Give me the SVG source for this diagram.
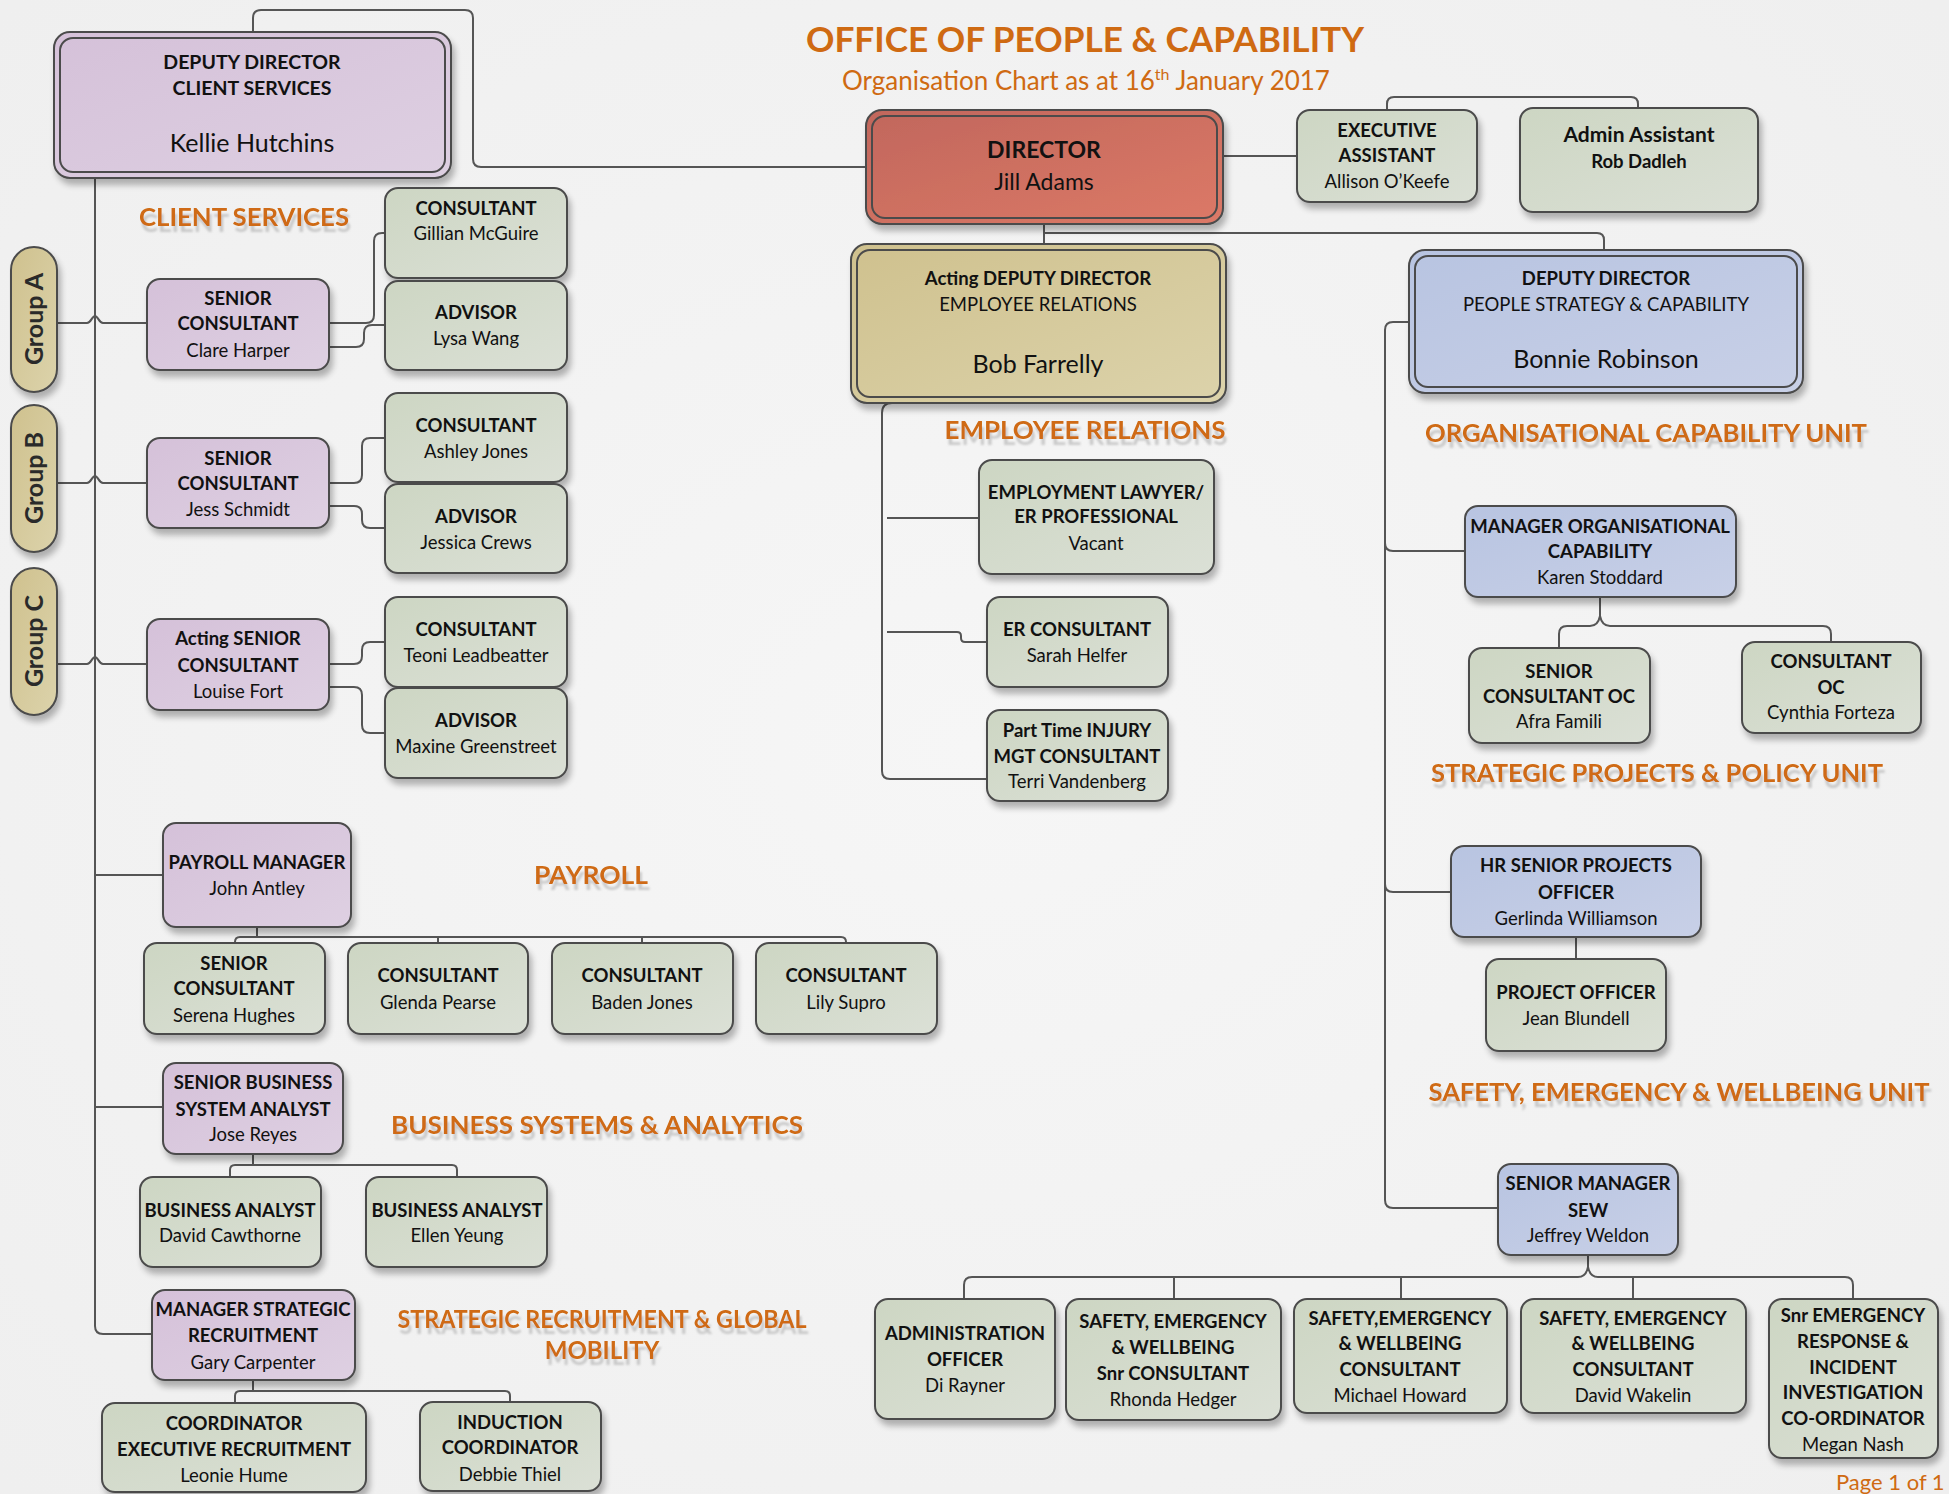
<svg xmlns="http://www.w3.org/2000/svg" width="1949" height="1494" viewBox="0 0 1949 1494">
<defs>
<radialGradient id="bg" cx="0.5" cy="0.5" r="0.7">
<stop offset="0" stop-color="#F6F6F6"/><stop offset="1" stop-color="#EFEFEF"/>
</radialGradient>
<linearGradient id="gG" x1="0" y1="0" x2="1" y2="1"><stop offset="0" stop-color="#CDD6C3"/><stop offset="1" stop-color="#DBE0D6"/></linearGradient>
<linearGradient id="gP" x1="0" y1="0" x2="1" y2="1"><stop offset="0" stop-color="#D5C1D9"/><stop offset="1" stop-color="#DED0E2"/></linearGradient>
<linearGradient id="gB" x1="0" y1="0" x2="1" y2="1"><stop offset="0" stop-color="#B8C4E1"/><stop offset="1" stop-color="#C8D0E7"/></linearGradient>
<linearGradient id="gT" x1="0" y1="0" x2="1" y2="1"><stop offset="0" stop-color="#CFC18E"/><stop offset="1" stop-color="#DCD3AB"/></linearGradient>
<linearGradient id="gR" x1="0" y1="0" x2="1" y2="1"><stop offset="0" stop-color="#C1675C"/><stop offset="1" stop-color="#DC7967"/></linearGradient>
<filter id="sh" x="-10%" y="-10%" width="130%" height="140%">
<feGaussianBlur in="SourceAlpha" stdDeviation="3" result="b"/>
<feOffset in="b" dx="3" dy="6" result="o"/>
<feComponentTransfer in="o" result="s"><feFuncA type="linear" slope="0.28"/></feComponentTransfer>
<feMerge><feMergeNode in="s"/><feMergeNode in="SourceGraphic"/></feMerge>
</filter>
<filter id="rf" x="-5%" y="-20%" width="110%" height="160%">
<feOffset in="SourceAlpha" dx="2" dy="6" result="o"/>
<feGaussianBlur in="o" stdDeviation="0.8" result="ob"/>
<feFlood flood-color="#8A8A8A" flood-opacity="0.4"/>
<feComposite in2="ob" operator="in" result="s"/>
<feMerge><feMergeNode in="s"/><feMergeNode in="SourceGraphic"/></feMerge>
</filter>
<style>
text{font-family:Lato,"Liberation Sans",sans-serif;fill:#111;text-anchor:middle}
.b{font-weight:bold;font-size:18.5px}
.r{font-size:18.5px}
.big{font-size:25px}
.lab{font-weight:bold;font-size:24px;fill:#CF6A12}
.grp{font-weight:bold;font-size:25px;fill:#2A2A2A}
.box{stroke:#4B4B4B;stroke-width:2;filter:url(#sh)}
.in{fill:none;stroke:#4B4B4B;stroke-width:2}
.G{fill:url(#gG)}.P{fill:url(#gP)}.B{fill:url(#gB)}.T{fill:url(#gT)}.R{fill:url(#gR)}
.con path{fill:none;stroke:#555;stroke-width:2}
</style>
</defs>
<rect width="1949" height="1494" fill="url(#bg)"/>

<g id="title">
<text x="1085" y="52" font-weight="bold" font-size="35" style="fill:#CF6A12" textLength="558" lengthAdjust="spacingAndGlyphs">OFFICE OF PEOPLE &amp; CAPABILITY</text>
<text x="1086" y="90" font-size="26" style="fill:#CF6A12">Organisation Chart as at 16<tspan dy="-10" font-size="16">th</tspan><tspan dy="10"> January 2017</tspan></text>
</g>

<g id="labels" filter="url(#rf)">
<text class="lab" x="244" y="226" textLength="210" lengthAdjust="spacingAndGlyphs">CLIENT SERVICES</text>
<text class="lab" x="1085" y="439" textLength="281" lengthAdjust="spacingAndGlyphs">EMPLOYEE RELATIONS</text>
<text class="lab" x="1646" y="442" textLength="442" lengthAdjust="spacingAndGlyphs">ORGANISATIONAL CAPABILITY UNIT</text>
<text class="lab" x="1657" y="782" textLength="452" lengthAdjust="spacingAndGlyphs">STRATEGIC PROJECTS &amp; POLICY UNIT</text>
<text class="lab" x="1679" y="1101" textLength="501" lengthAdjust="spacingAndGlyphs">SAFETY, EMERGENCY &amp; WELLBEING UNIT</text>
<text class="lab" x="591" y="884" textLength="114" lengthAdjust="spacingAndGlyphs">PAYROLL</text>
<text class="lab" x="597" y="1134" textLength="412" lengthAdjust="spacingAndGlyphs">BUSINESS SYSTEMS &amp; ANALYTICS</text>
<text class="lab" x="602" y="1328" textLength="409" lengthAdjust="spacingAndGlyphs">STRATEGIC RECRUITMENT &amp; GLOBAL</text>
<text class="lab" x="602" y="1359">MOBILITY</text>
</g>
<text x="1836" y="1490" font-size="22" style="fill:#CF6A12;text-anchor:start">Page 1 of 1</text>

<g class="con" id="connectors">
<path d="M253 32 V18 Q253 10 261 10 H465 Q473 10 473 18 V159 Q473 167 481 167 H866"/>
<path d="M1223 156 H1297"/>
<path d="M1387 110 V104 Q1387 97 1394 97 H1631 Q1638 97 1638 104 V108"/>
<path d="M1044 224 V244 M1044 233 H1597 Q1604 233 1604 240 V250"/>
<path d="M95 178 V1326 Q95 1334 103 1334 H152"/>
<path d="M57 323 H87 C91 323 92 316 95 316 C98 316 99 323 103 323 H147"/>
<path d="M57 483 H87 C91 483 92 476 95 476 C98 476 99 483 103 483 H147"/>
<path d="M57 664 H87 C91 664 92 657 95 657 C98 657 99 664 103 664 H147"/>
<path d="M329 323 H366 Q374 323 374 315 V241 Q374 233 382 233 H385"/>
<path d="M329 347 H356 Q364 347 364 339 V333 Q364 325 372 325 H385"/>
<path d="M329 483 H354 Q362 483 362 475 V446 Q362 438 370 438 H385"/>
<path d="M329 506 H354 Q362 506 362 514 V520 Q362 528 370 528 H385"/>
<path d="M329 664 H354 Q362 664 362 656 V650 Q362 642 370 642 H385"/>
<path d="M329 687 H354 Q362 687 362 695 V725 Q362 733 370 733 H385"/>
<path d="M95 875 H163"/>
<path d="M95 1107 H163"/>
<path d="M257 927 V937 M235 943 V942 Q235 937 240 937 H841 Q846 937 846 942 V943 M438 937 V943 M642 937 V943"/>
<path d="M253 1154 V1165 M230 1177 V1170 Q230 1165 235 1165 H452 Q457 1165 457 1170 V1177"/>
<path d="M253 1380 V1391 M235 1403 V1396 Q235 1391 240 1391 H505 Q510 1391 510 1396 V1402"/>
<path d="M948 403 H892 Q882 403 882 413 V771 Q882 779 890 779 H987"/>
<path d="M887 518 H979"/>
<path d="M887 632 H957 Q961 632 961 636 V638 Q961 642 965 642 H987"/>
<path d="M1409 322 H1393 Q1385 322 1385 330 V1200 Q1385 1208 1393 1208 H1498"/>
<path d="M1385 543 Q1385 551 1393 551 H1465"/>
<path d="M1385 884 Q1385 892 1393 892 H1451"/>
<path d="M1600 597 V616 Q1598 626 1590 626 H1567 Q1559 626 1559 634 V648 M1600 616 Q1602 626 1610 626 H1823 Q1831 626 1831 634 V642"/>
<path d="M1576 937 V959"/>
<path d="M1588 1255 V1267 Q1586 1277 1578 1277 H972 Q964 1277 964 1285 V1299 M1588 1267 Q1590 1277 1598 1277 H1845 Q1853 1277 1853 1285 V1299 M1174 1277 V1299 M1401 1277 V1299 M1633 1277 V1299"/>
</g>

<g id="dd-client-services">
<rect class="box P" x="54" y="32" width="397" height="146" rx="16"/>
<rect class="in" x="60" y="38" width="385" height="134" rx="13"/>
<text class="b" x="252" y="69" font-size="19.5" style="font-size:19.5px">DEPUTY DIRECTOR</text>
<text class="b" x="252" y="95" style="font-size:19.5px">CLIENT SERVICES</text>
<text class="big" x="252" y="152">Kellie Hutchins</text>
</g>
<g id="director">
<rect class="box R" x="866" y="110" width="357" height="114" rx="16"/>
<rect class="in" x="872" y="116" width="345" height="102" rx="13"/>
<text x="1044" y="158" font-weight="bold" font-size="23">DIRECTOR</text>
<text x="1044" y="190" font-size="23">Jill Adams</text>
</g>
<g id="exec-assistant">
<rect class="box G" x="1297" y="110" width="180" height="92" rx="13"/>
<text class="b" x="1387" y="137">EXECUTIVE</text>
<text class="b" x="1387" y="162">ASSISTANT</text>
<text class="r" x="1387" y="188">Allison O’Keefe</text>
</g>
<g id="admin-assistant">
<rect class="box G" x="1520" y="108" width="238" height="104" rx="13"/>
<text x="1639" y="142" font-weight="bold" font-size="21">Admin Assistant</text>
<text class="b" x="1639" y="168">Rob Dadleh</text>
</g>
<g id="dd-employee-relations">
<rect class="box T" x="851" y="244" width="375" height="159" rx="16"/>
<rect class="in" x="857" y="250" width="363" height="147" rx="13"/>
<text class="b" x="1038" y="285">Acting DEPUTY DIRECTOR</text>
<text class="r" x="1038" y="311">EMPLOYEE RELATIONS</text>
<text class="big" x="1038" y="373">Bob Farrelly</text>
</g>
<g id="dd-people-strategy">
<rect class="box B" x="1409" y="250" width="394" height="143" rx="16"/>
<rect class="in" x="1415" y="256" width="382" height="131" rx="13"/>
<text class="b" x="1606" y="285">DEPUTY DIRECTOR</text>
<text class="r" x="1606" y="311">PEOPLE STRATEGY &amp; CAPABILITY</text>
<text class="big" x="1606" y="368">Bonnie Robinson</text>
</g>

<g id="group-a">
<rect class="box T" x="11" y="247" width="46" height="145" rx="23"/>
<text class="grp" transform="translate(43,319) rotate(-90)">Group A</text>
</g>
<g id="group-b">
<rect class="box T" x="11" y="405" width="46" height="147" rx="23"/>
<text class="grp" transform="translate(43,478) rotate(-90)">Group B</text>
</g>
<g id="group-c">
<rect class="box T" x="11" y="568" width="46" height="147" rx="23"/>
<text class="grp" transform="translate(43,641) rotate(-90)">Group C</text>
</g>

<g id="sc-clare-harper">
<rect class="box P" x="147" y="279" width="182" height="91" rx="13"/>
<text class="b" x="238" y="305">SENIOR</text>
<text class="b" x="238" y="330">CONSULTANT</text>
<text class="r" x="238" y="357">Clare Harper</text>
</g>
<g id="consultant-gillian">
<rect class="box G" x="385" y="188" width="182" height="90" rx="13"/>
<text class="b" x="476" y="215">CONSULTANT</text>
<text class="r" x="476" y="240">Gillian McGuire</text>
</g>
<g id="advisor-lysa">
<rect class="box G" x="385" y="281" width="182" height="89" rx="13"/>
<text class="b" x="476" y="319">ADVISOR</text>
<text class="r" x="476" y="345">Lysa Wang</text>
</g>
<g id="sc-jess-schmidt">
<rect class="box P" x="147" y="438" width="182" height="90" rx="13"/>
<text class="b" x="238" y="465">SENIOR</text>
<text class="b" x="238" y="490">CONSULTANT</text>
<text class="r" x="238" y="516">Jess Schmidt</text>
</g>
<g id="consultant-ashley">
<rect class="box G" x="385" y="393" width="182" height="89" rx="13"/>
<text class="b" x="476" y="432">CONSULTANT</text>
<text class="r" x="476" y="458">Ashley Jones</text>
</g>
<g id="advisor-jessica">
<rect class="box G" x="385" y="484" width="182" height="89" rx="13"/>
<text class="b" x="476" y="523">ADVISOR</text>
<text class="r" x="476" y="549">Jessica Crews</text>
</g>
<g id="sc-louise-fort">
<rect class="box P" x="147" y="619" width="182" height="91" rx="13"/>
<text class="b" x="238" y="645">Acting SENIOR</text>
<text class="b" x="238" y="672">CONSULTANT</text>
<text class="r" x="238" y="698">Louise Fort</text>
</g>
<g id="consultant-teoni">
<rect class="box G" x="385" y="597" width="182" height="90" rx="13"/>
<text class="b" x="476" y="636">CONSULTANT</text>
<text class="r" x="476" y="662">Teoni Leadbeatter</text>
</g>
<g id="advisor-maxine">
<rect class="box G" x="385" y="688" width="182" height="90" rx="13"/>
<text class="b" x="476" y="727">ADVISOR</text>
<text class="r" x="476" y="753">Maxine Greenstreet</text>
</g>

<g id="payroll-manager">
<rect class="box P" x="163" y="823" width="188" height="104" rx="13"/>
<text class="b" x="257" y="869">PAYROLL MANAGER</text>
<text class="r" x="257" y="895">John Antley</text>
</g>
<g id="payroll-serena">
<rect class="box G" x="144" y="943" width="181" height="91" rx="13"/>
<text class="b" x="234" y="970">SENIOR</text>
<text class="b" x="234" y="995">CONSULTANT</text>
<text class="r" x="234" y="1022">Serena Hughes</text>
</g>
<g id="payroll-glenda">
<rect class="box G" x="348" y="943" width="180" height="91" rx="13"/>
<text class="b" x="438" y="982">CONSULTANT</text>
<text class="r" x="438" y="1009">Glenda Pearse</text>
</g>
<g id="payroll-baden">
<rect class="box G" x="552" y="943" width="181" height="91" rx="13"/>
<text class="b" x="642" y="982">CONSULTANT</text>
<text class="r" x="642" y="1009">Baden Jones</text>
</g>
<g id="payroll-lily">
<rect class="box G" x="756" y="943" width="181" height="91" rx="13"/>
<text class="b" x="846" y="982">CONSULTANT</text>
<text class="r" x="846" y="1009">Lily Supro</text>
</g>

<g id="sbsa-jose">
<rect class="box P" x="163" y="1063" width="180" height="91" rx="13"/>
<text class="b" x="253" y="1089">SENIOR BUSINESS</text>
<text class="b" x="253" y="1116">SYSTEM ANALYST</text>
<text class="r" x="253" y="1141">Jose Reyes</text>
</g>
<g id="ba-david">
<rect class="box G" x="140" y="1177" width="181" height="90" rx="13"/>
<text class="b" x="230" y="1217">BUSINESS ANALYST</text>
<text class="r" x="230" y="1242">David Cawthorne</text>
</g>
<g id="ba-ellen">
<rect class="box G" x="366" y="1177" width="181" height="90" rx="13"/>
<text class="b" x="457" y="1217">BUSINESS ANALYST</text>
<text class="r" x="457" y="1242">Ellen Yeung</text>
</g>

<g id="msr-gary">
<rect class="box P" x="152" y="1290" width="203" height="90" rx="13"/>
<text class="b" x="253" y="1316">MANAGER STRATEGIC</text>
<text class="b" x="253" y="1342">RECRUITMENT</text>
<text class="r" x="253" y="1369">Gary Carpenter</text>
</g>
<g id="coord-leonie">
<rect class="box G" x="102" y="1403" width="264" height="89" rx="13"/>
<text class="b" x="234" y="1430">COORDINATOR</text>
<text class="b" x="234" y="1456">EXECUTIVE RECRUITMENT</text>
<text class="r" x="234" y="1482">Leonie Hume</text>
</g>
<g id="induction-debbie">
<rect class="box G" x="420" y="1402" width="181" height="89" rx="13"/>
<text class="b" x="510" y="1429">INDUCTION</text>
<text class="b" x="510" y="1454">COORDINATOR</text>
<text class="r" x="510" y="1481">Debbie Thiel</text>
</g>

<g id="employment-lawyer">
<rect class="box G" x="979" y="460" width="235" height="114" rx="13"/>
<text class="b" x="1096" y="499">EMPLOYMENT LAWYER/</text>
<text class="b" x="1096" y="523">ER PROFESSIONAL</text>
<text class="r" x="1096" y="550">Vacant</text>
</g>
<g id="er-consultant">
<rect class="box G" x="987" y="597" width="181" height="90" rx="13"/>
<text class="b" x="1077" y="636">ER CONSULTANT</text>
<text class="r" x="1077" y="662">Sarah Helfer</text>
</g>
<g id="injury-consultant">
<rect class="box G" x="987" y="710" width="181" height="91" rx="13"/>
<text class="b" x="1077" y="737">Part Time INJURY</text>
<text class="b" x="1077" y="763">MGT CONSULTANT</text>
<text class="r" x="1077" y="788">Terri Vandenberg</text>
</g>

<g id="moc-karen">
<rect class="box B" x="1465" y="506" width="271" height="91" rx="13"/>
<text class="b" x="1600" y="533">MANAGER ORGANISATIONAL</text>
<text class="b" x="1600" y="558">CAPABILITY</text>
<text class="r" x="1600" y="584">Karen Stoddard</text>
</g>
<g id="sc-oc-afra">
<rect class="box G" x="1469" y="648" width="181" height="95" rx="13"/>
<text class="b" x="1559" y="678">SENIOR</text>
<text class="b" x="1559" y="703">CONSULTANT OC</text>
<text class="r" x="1559" y="728">Afra Famili</text>
</g>
<g id="consultant-oc-cynthia">
<rect class="box G" x="1742" y="642" width="179" height="91" rx="13"/>
<text class="b" x="1831" y="668">CONSULTANT</text>
<text class="b" x="1831" y="694">OC</text>
<text class="r" x="1831" y="719">Cynthia Forteza</text>
</g>
<g id="hrspo-gerlinda">
<rect class="box B" x="1451" y="846" width="250" height="91" rx="13"/>
<text class="b" x="1576" y="872">HR SENIOR PROJECTS</text>
<text class="b" x="1576" y="899">OFFICER</text>
<text class="r" x="1576" y="925">Gerlinda Williamson</text>
</g>
<g id="po-jean">
<rect class="box G" x="1486" y="959" width="180" height="92" rx="13"/>
<text class="b" x="1576" y="999">PROJECT OFFICER</text>
<text class="r" x="1576" y="1025">Jean Blundell</text>
</g>
<g id="smsew-jeffrey">
<rect class="box B" x="1498" y="1164" width="180" height="91" rx="13"/>
<text class="b" x="1588" y="1190">SENIOR MANAGER</text>
<text class="b" x="1588" y="1217">SEW</text>
<text class="r" x="1588" y="1242">Jeffrey Weldon</text>
</g>
<g id="admin-officer-di">
<rect class="box G" x="875" y="1299" width="180" height="120" rx="13"/>
<text class="b" x="965" y="1340">ADMINISTRATION</text>
<text class="b" x="965" y="1366">OFFICER</text>
<text class="r" x="965" y="1392">Di Rayner</text>
</g>
<g id="sew-rhonda">
<rect class="box G" x="1066" y="1299" width="215" height="121" rx="13"/>
<text class="b" x="1173" y="1328">SAFETY, EMERGENCY</text>
<text class="b" x="1173" y="1354">&amp; WELLBEING</text>
<text class="b" x="1173" y="1380">Snr CONSULTANT</text>
<text class="r" x="1173" y="1406">Rhonda Hedger</text>
</g>
<g id="sew-michael">
<rect class="box G" x="1294" y="1299" width="213" height="114" rx="13"/>
<text class="b" x="1400" y="1325">SAFETY,EMERGENCY</text>
<text class="b" x="1400" y="1350">&amp; WELLBEING</text>
<text class="b" x="1400" y="1376">CONSULTANT</text>
<text class="r" x="1400" y="1402">Michael Howard</text>
</g>
<g id="sew-david">
<rect class="box G" x="1521" y="1299" width="225" height="114" rx="13"/>
<text class="b" x="1633" y="1325">SAFETY, EMERGENCY</text>
<text class="b" x="1633" y="1350">&amp; WELLBEING</text>
<text class="b" x="1633" y="1376">CONSULTANT</text>
<text class="r" x="1633" y="1402">David Wakelin</text>
</g>
<g id="snr-emergency-megan">
<rect class="box G" x="1769" y="1299" width="169" height="159" rx="13"/>
<text class="b" x="1853" y="1322">Snr EMERGENCY</text>
<text class="b" x="1853" y="1348">RESPONSE &amp;</text>
<text class="b" x="1853" y="1374">INCIDENT</text>
<text class="b" x="1853" y="1399">INVESTIGATION</text>
<text class="b" x="1853" y="1425">CO-ORDINATOR</text>
<text class="r" x="1853" y="1451">Megan Nash</text>
</g>
</svg>
